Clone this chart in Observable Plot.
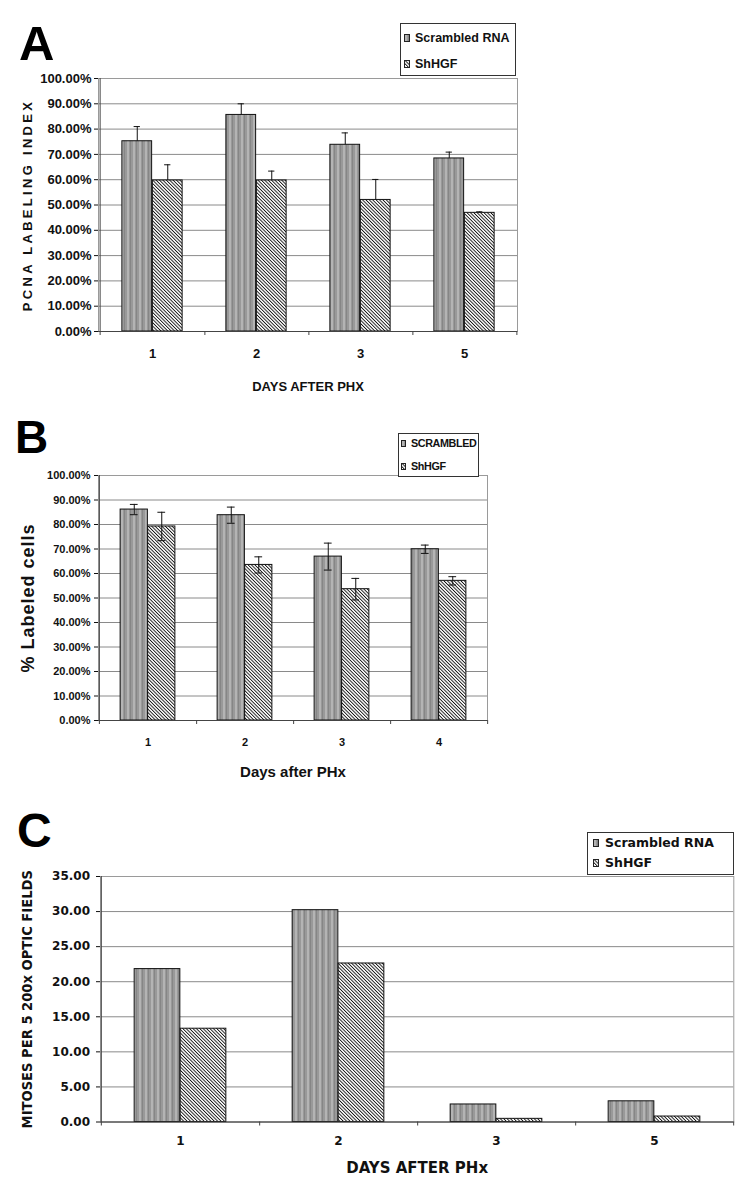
<!DOCTYPE html>
<html>
<head>
<meta charset="utf-8">
<script src="https://cdn.jsdelivr.net/npm/d3@7"></script>
<script src="https://cdn.jsdelivr.net/npm/@observablehq/plot@0.6"></script>
<style>
  body { margin: 0; background: #fff; }
  #page { position: relative; width: 750px; height: 1195px; overflow: hidden; background: #fff; color: #111; font-family: "Liberation Sans", Arial, sans-serif; }
  .panel { position: absolute; left: 0; }
  .letter { position: absolute; font-weight: bold; line-height: 1; color: #000; font-family: "Liberation Sans", Arial, sans-serif; }
  .legend { position: absolute; border: 1px solid #333; background: #fff; box-sizing: border-box; }
  .legend .row { position: absolute; display: flex; align-items: center; height: 16px; line-height: 16px; white-space: nowrap; font-weight: bold; color: #111; }
  .legend .row svg { display: block; flex: none; }
</style>
</head>
<body>
<svg width="0" height="0" style="position:absolute">
  <defs>
    <pattern id="stripes" patternUnits="userSpaceOnUse" width="6" height="10">
      <rect width="6" height="10" fill="#999999"/>
      <rect x="1" width="2" height="10" fill="#b4b4b4"/>
      <rect x="4" width="1" height="10" fill="#868686"/>
    </pattern>
    <pattern id="hatch" patternUnits="userSpaceOnUse" width="2.4" height="2.4" patternTransform="rotate(-45)">
      <rect width="2.4" height="2.4" fill="#fff"/>
      <rect width="0.9" height="2.4" fill="#111"/>
    </pattern>
  </defs>
</svg>
<div id="page"></div>
<script>
// ---------- Panel A data ----------
const daysA = ["1", "2", "3", "5"];
const scrA = [75.2, 85.6, 73.8, 68.4];
const scrErrA = [5.8, 4.4, 4.7, 2.5];
const hgfA = [59.7, 59.7, 52.0, 46.9];
const hgfErrA = [6.2, 3.7, 8.1, 0.4];
const ticksA = [0, 10, 20, 30, 40, 50, 60, 70, 80, 90, 100];
const legendA = ["Scrambled RNA", "ShHGF"];

// ---------- Panel B data ----------
const daysB = ["1", "2", "3", "4"];
const scrB = [86.1, 83.8, 66.9, 69.9];
const scrErrB = [2.1, 3.3, 5.5, 1.7];
const hgfB = [79.2, 63.5, 53.6, 57.0];
const hgfErrB = [5.8, 3.3, 4.4, 1.7];
const ticksB = [0, 10, 20, 30, 40, 50, 60, 70, 80, 90, 100];
const legendB = ["SCRAMBLED", "ShHGF"];

// ---------- Panel C data ----------
const daysC = ["1", "2", "3", "5"];
const scrC = [21.8, 30.2, 2.5, 2.95];
const hgfC = [13.3, 22.6, 0.45, 0.78];
const ticksC = [0, 5, 10, 15, 20, 25, 30, 35];
const legendC = ["Scrambled RNA", "ShHGF"];

const page = document.getElementById("page");

function panel(cfg) {
  const {days, scr, hgf, scrErr, hgfErr, errBoth, ticks, fmt,
         height, mt, mb, ml, mr, barW, capW, font, fontSize, tickPad, xTickPad,
         xTitle, xTitleDy, xTitleSize, xTitleFont,
         yTitle, yTitleDx, yTitleSize, yTitleFont} = cfg;
  const width = 750;
  const yMax = ticks[ticks.length - 1];
  const bw = (width - ml - mr) / days.length;
  const rows = days.map((d, i) => ({
    day: d, scr: scr[i], hgf: hgf[i],
    scrErr: scrErr ? scrErr[i] : 0, hgfErr: hgfErr ? hgfErr[i] : 0
  }));
  const marks = [
    Plot.ruleY(ticks, {stroke: "#8a8a8a"}),
    Plot.frame({stroke: "#9a9a9a"}),
    Plot.barY(rows, {x: "day", y: "scr", fill: "url(#stripes)", stroke: "#111",
      insetLeft: bw / 2 - barW, insetRight: bw / 2}),
    Plot.barY(rows, {x: "day", y: "hgf", fill: "url(#hatch)", stroke: "#111",
      insetLeft: bw / 2, insetRight: bw / 2 - barW})
  ];
  if (scrErr) {
    const lo = (v, e) => errBoth ? v - e : v;
    marks.push(
      Plot.ruleX(rows, {x: "day", dx: -barW / 2, y1: d => d.scr + d.scrErr, y2: d => lo(d.scr, d.scrErr), stroke: "#111"}),
      Plot.tickY(rows, {x: "day", y: d => d.scr + d.scrErr, stroke: "#111",
        insetLeft: bw / 2 - barW / 2 - capW / 2, insetRight: bw / 2 + barW / 2 - capW / 2}),
      Plot.ruleX(rows, {x: "day", dx: barW / 2, y1: d => d.hgf + d.hgfErr, y2: d => lo(d.hgf, d.hgfErr), stroke: "#111"}),
      Plot.tickY(rows, {x: "day", y: d => d.hgf + d.hgfErr, stroke: "#111",
        insetLeft: bw / 2 + barW / 2 - capW / 2, insetRight: bw / 2 - barW / 2 - capW / 2})
    );
    if (errBoth) {
      marks.push(
        Plot.tickY(rows, {x: "day", y: d => d.scr - d.scrErr, stroke: "#111",
          insetLeft: bw / 2 - barW / 2 - capW / 2, insetRight: bw / 2 + barW / 2 - capW / 2}),
        Plot.tickY(rows, {x: "day", y: d => d.hgf - d.hgfErr, stroke: "#111",
          insetLeft: bw / 2 + barW / 2 - capW / 2, insetRight: bw / 2 - barW / 2 - capW / 2})
      );
    }
  }
  marks.push(
    Plot.ruleY([0], {stroke: "#444"}),
    Plot.ruleX([days[0]], {x: d => d, dx: -bw / 2, y1: () => yMax, y2: () => 0, insetBottom: -4, stroke: "#444"}),
    Plot.ruleX(days, {x: d => d, dx: bw / 2, y1: () => 0, y2: () => 0, insetBottom: -4, stroke: "#444"}),
    Plot.text([xTitle], {text: d => d, frameAnchor: "bottom", dy: xTitleDy, lineAnchor: "middle", textAnchor: "middle",
      fontSize: xTitleSize, fontWeight: "bold", fontFamily: xTitleFont, fill: "#111"}),
    Plot.text([yTitle], {text: d => d, frameAnchor: "left", dx: yTitleDx, rotate: -90, lineAnchor: "middle", textAnchor: "middle",
      fontSize: yTitleSize, fontWeight: "bold", fontFamily: yTitleFont, fill: "#111"})
  );
  return Plot.plot({
    width, height,
    marginTop: mt, marginBottom: mb, marginLeft: ml, marginRight: mr,
    style: {fontFamily: font, fontSize: fontSize + "px", fontWeight: "bold", color: "#111", background: "white", overflow: "visible"},
    x: {domain: days, padding: 0, tickSize: 0, tickPadding: xTickPad, label: null},
    y: {domain: [0, yMax], ticks, tickFormat: fmt, tickSize: 4, tickPadding: tickPad, label: null},
    marks
  });
}

function place(el, top) {
  const wrap = document.createElement("div");
  wrap.className = "panel";
  wrap.style.top = top + "px";
  wrap.appendChild(el);
  page.appendChild(wrap);
  return el;
}

function spaceText(chart, txt, spacing) {
  d3.select(chart).selectAll("text").filter(function() { return this.textContent === txt; })
    .style("letter-spacing", spacing);
}

function letter(txt, left, top, size) {
  const d = document.createElement("div");
  d.className = "letter";
  d.textContent = txt;
  d.style.left = left + "px";
  d.style.top = top + "px";
  d.style.fontSize = size + "px";
  page.appendChild(d);
}

function legend(labels, box, rows, font, size, gap, sw, spacing) {
  const d = document.createElement("div");
  d.className = "legend";
  Object.assign(d.style, {left: box[0] + "px", top: box[1] + "px", width: box[2] + "px", height: box[3] + "px"});
  const fills = ["url(#stripes)", "url(#hatch)"];
  labels.forEach((lab, i) => {
    const r = document.createElement("div");
    r.className = "row";
    r.style.left = rows[0] + "px";
    r.style.top = rows[1 + i] + "px";
    r.style.fontFamily = font;
    r.style.fontSize = size + "px";
    r.style.letterSpacing = spacing || "normal";
    r.innerHTML = `<svg width="${sw[0]}" height="${sw[1]}" style="margin-right:${gap}px"><rect x="0.5" y="0.5" width="${sw[0] - 1}" height="${sw[1] - 1}" fill="${fills[i]}" stroke="#222"/></svg>`;
    const t = document.createElement("span");
    t.textContent = lab;
    r.appendChild(t);
    d.appendChild(r);
  });
  page.appendChild(d);
}

const pct = d => d.toFixed(2) + "%";
const fontA = "'Liberation Sans', Arial, sans-serif";
const fontC = "'DejaVu Sans', Verdana, sans-serif";

// Panel A
const yTitleA = "PCNA LABELING INDEX";
const chartA = place(panel({
  days: daysA, scr: scrA, hgf: hgfA, scrErr: scrErrA, hgfErr: hgfErrA, errBoth: false,
  ticks: ticksA, fmt: pct, height: 335, mt: 16, mb: 66, ml: 98, mr: 233,
  barW: 30.5, capW: 7, font: fontA, fontSize: 13, tickPad: 3, xTickPad: 17,
  xTitle: "DAYS AFTER PHX", xTitleDy: 55, xTitleSize: 13, xTitleFont: fontA,
  yTitle: yTitleA, yTitleDx: -71, yTitleSize: 13, yTitleFont: fontA
}), 62);
spaceText(chartA, yTitleA, "3.3px");

// Panel B
const yTitleB = "% Labeled cells";
const chartB = place(panel({
  days: daysB, scr: scrB, hgf: hgfB, scrErr: scrErrB, hgfErr: hgfErrB, errBoth: true,
  ticks: ticksB, fmt: pct, height: 330, mt: 15, mb: 70, ml: 98, mr: 263,
  barW: 27.5, capW: 8, font: fontA, fontSize: 11, tickPad: 4, xTickPad: 18,
  xTitle: "Days after PHx", xTitleDy: 52, xTitleSize: 15, xTitleFont: fontA,
  yTitle: yTitleB, yTitleDx: -70, yTitleSize: 18, yTitleFont: fontA
}), 460);
spaceText(chartB, yTitleB, "1px");

// Panel C
place(panel({
  days: daysC, scr: scrC, hgf: hgfC, scrErr: null, hgfErr: null, errBoth: false,
  ticks: ticksC, fmt: d => d.toFixed(2), height: 330, mt: 16, mb: 68.5, ml: 100, mr: 16.7,
  barW: 46, capW: 0, font: fontC, fontSize: 12, tickPad: 6.5, xTickPad: 14.5,
  xTitle: "DAYS AFTER PHx", xTitleDy: 46.5, xTitleSize: 15, xTitleFont: fontC,
  yTitle: "MITOSES PER 5 200x OPTIC FIELDS", yTitleDx: -73, yTitleSize: 14.6,
  yTitleFont: "'Liberation Sans Narrow', 'DejaVu Sans Condensed', 'Arial Narrow', sans-serif"
}), 860);

// Panel letters
letter("A", 19, 18.6, 49);
letter("B", 15, 414, 46);
letter("C", 17, 807, 48);

// Legends
legend(legendA, [400, 23, 116, 53], [3, 5.5, 32], fontA, 12.5, 5, [6, 8]);
legend(legendB, [398, 433, 81, 44], [2, 1.3, 24], fontA, 10.8, 5, [5, 7], "-0.4px");
legend(legendC, [587, 832, 147, 43], [5, 1.7, 22.3], fontC, 12.5, 6, [6, 8]);
</script>
</body>
</html>
